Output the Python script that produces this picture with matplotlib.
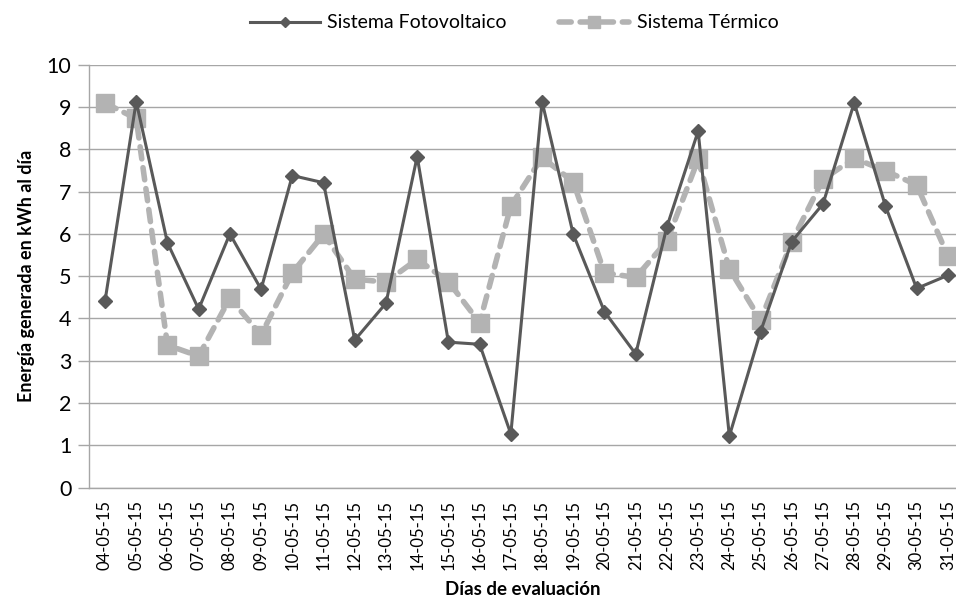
import matplotlib.pyplot as plt

plt.rcParams['font.family'] = ['Lato', 'DejaVu Sans']

# datos
dias = ['04-05-15', '05-05-15', '06-05-15', '07-05-15', '08-05-15', '09-05-15', '10-05-15',
        '11-05-15', '12-05-15', '13-05-15', '14-05-15', '15-05-15', '16-05-15', '17-05-15',
        '18-05-15', '19-05-15', '20-05-15', '21-05-15', '22-05-15', '23-05-15', '24-05-15',
        '25-05-15', '26-05-15', '27-05-15', '28-05-15', '29-05-15', '30-05-15', '31-05-15']
fotovoltaico = [4.41, 9.13, 5.79, 4.22, 6.00, 4.69, 7.38, 7.21, 3.49, 4.36, 7.83, 3.44, 3.39, 1.27,
                9.13, 5.99, 4.16, 3.16, 6.17, 8.43, 1.22, 3.69, 5.82, 6.71, 9.10, 6.66, 4.71, 5.02]
termico = [9.09, 8.73, 3.37, 3.11, 4.48, 3.61, 5.08, 5.99, 4.93, 4.86, 5.40, 4.87, 3.90, 6.66,
           7.81, 7.23, 5.08, 4.97, 5.83, 7.76, 5.17, 3.96, 5.82, 7.29, 7.79, 7.49, 7.16, 5.48]

OSCURO = '#595959'
CLARO = '#b3b3b3'
REJILLA = '#a6a6a6'

fig = plt.figure(figsize=(9.56, 6.05), dpi=100)
ax = fig.add_axes([0.0935, 0.194, 0.9065, 0.699])

x = list(range(len(dias)))
ax.plot(x, fotovoltaico, color=OSCURO, linewidth=2.2, marker='D', markersize=7,
        label='Sistema Fotovoltaico', zorder=3)
ax.plot(x, termico, color=CLARO, linewidth=4, linestyle=(0, (2.2, 1.6)),
        dash_capstyle='round', marker='s', markersize=13, label='Sistema Térmico', zorder=2)

ax.set_ylim(0, 10)
ax.set_xlim(-0.5, 27.26)
ax.set_yticks(range(0, 11))
ax.set_xticks(x)
ax.set_xticklabels(dias, rotation=90, fontsize=12)
ax.tick_params(axis='y', labelsize=15.5, length=8, color=REJILLA, width=1, pad=5)
ax.tick_params(axis='x', length=0, pad=9)
ax.grid(axis='y', color=REJILLA, linewidth=1)
ax.set_axisbelow(True)
for lado in ['top', 'right']:
    ax.spines[lado].set_visible(False)
for lado in ['left', 'bottom']:
    ax.spines[lado].set_color(REJILLA)
    ax.spines[lado].set_linewidth(1)

ax.set_ylabel('Energía generada en kWh al día', fontsize=13, fontweight='bold', labelpad=8)
ax.set_xlabel('Días de evaluación', fontsize=13.5, fontweight='bold', labelpad=8)

fig.legend(loc='upper center', bbox_to_anchor=(0.538, 1.005), ncol=2, frameon=False,
           fontsize=14, handlelength=3.6, handletextpad=0.4, columnspacing=2.7,
           markerscale=0.7)

fig.savefig('out.png', dpi=100)
